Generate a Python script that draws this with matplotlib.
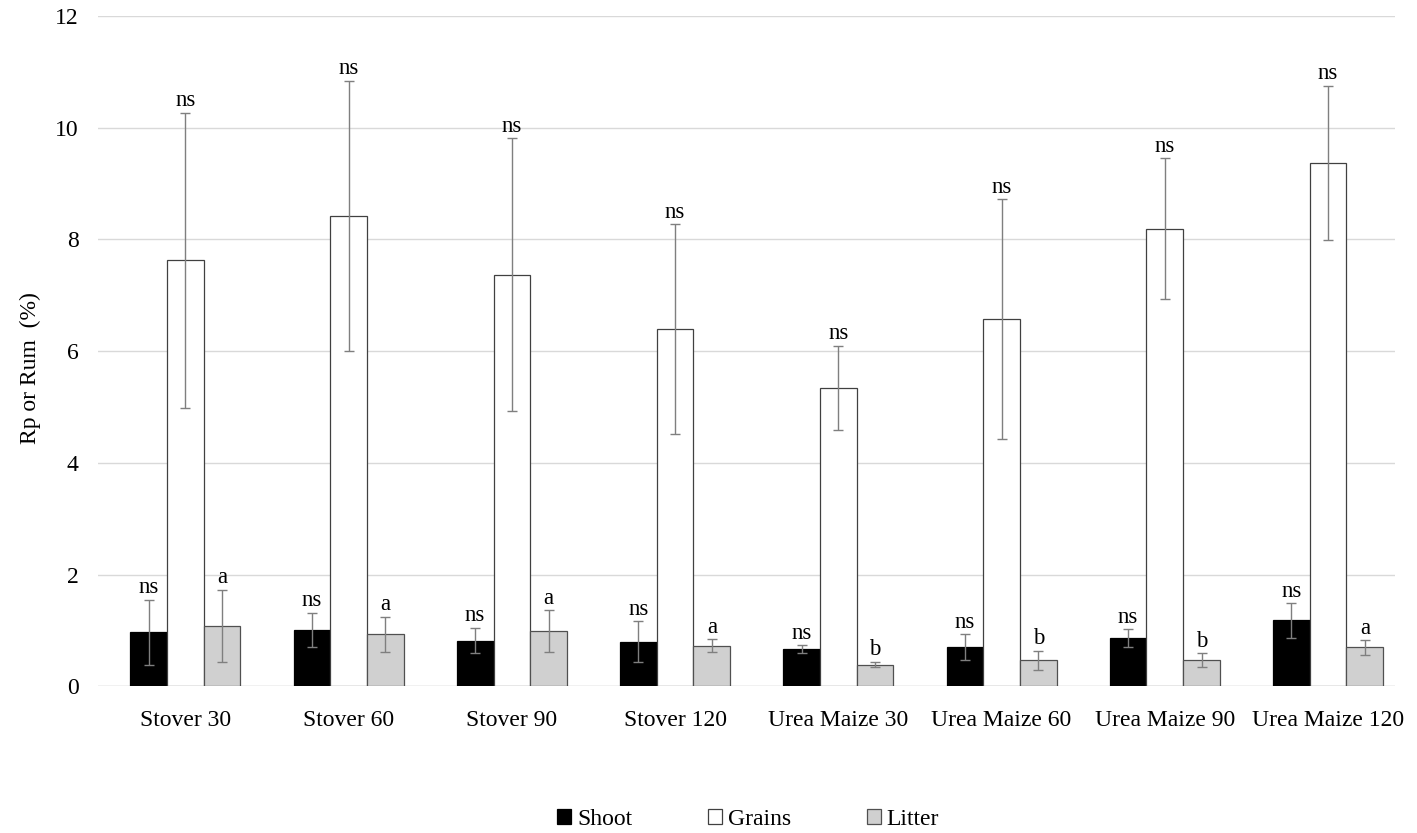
import matplotlib
matplotlib.use("Agg")
import matplotlib.pyplot as plt
import numpy as np

categories = ["Stover 30", "Stover 60", "Stover 90", "Stover 120",
              "Urea Maize 30", "Urea Maize 60", "Urea Maize 90", "Urea Maize 120"]
series = ["Shoot", "Grains", "Litter"]
shoot = [0.97, 1.01, 0.82, 0.80, 0.67, 0.70, 0.86, 1.18]
shoot_err = [0.58, 0.31, 0.23, 0.37, 0.07, 0.23, 0.16, 0.31]
grains = [7.63, 8.42, 7.37, 6.39, 5.34, 6.57, 8.19, 9.37]
grains_err = [2.64, 2.42, 2.44, 1.88, 0.76, 2.15, 1.26, 1.38]
litter = [1.08, 0.93, 0.99, 0.73, 0.39, 0.47, 0.47, 0.70]
litter_err = [0.65, 0.32, 0.37, 0.12, 0.05, 0.17, 0.12, 0.13]
shoot_lbl = ["ns"] * 8
grains_lbl = ["ns"] * 8
litter_lbl = ["a", "a", "a", "a", "b", "b", "b", "a"]

plt.rcParams['font.family'] = ['Liberation Serif', 'DejaVu Serif']

fig = plt.figure(figsize=(14.17, 8.33), dpi=100)
ax = fig.add_axes([0.0692, 0.176, 0.9153, 0.805])

x = np.arange(len(categories))
w = 0.225
vals = [shoot, grains, litter]
errs = [shoot_err, grains_err, litter_err]
lbls = [shoot_lbl, grains_lbl, litter_lbl]
faces = ["black", "white", "#d0d0d0"]
edges = ["black", "#404040", "#505050"]

for i in range(3):
    xs = x + (i - 1) * w
    ax.bar(xs, vals[i], w, color=faces[i], edgecolor=edges[i], linewidth=0.9,
           label=series[i], zorder=3,
           yerr=errs[i], error_kw=dict(ecolor="#7f7f7f", elinewidth=1.0,
                                       capsize=3.5, capthick=1.0, zorder=4))
    for xi, v, e, t in zip(xs, vals[i], errs[i], lbls[i]):
        ax.annotate(t, (xi, v + e), xytext=(0, 1), textcoords="offset points",
                    ha="center", va="bottom", fontsize=16.5, zorder=5)

ax.set_xlim(-0.535, 7.41)
ax.set_ylim(0, 12)
ax.set_yticks(np.arange(0, 13, 2))
ax.set_xticks(x)
ax.set_xticklabels(categories, fontsize=17)
ax.tick_params(axis='y', labelsize=17, length=0, pad=14)
ax.tick_params(axis='x', length=0, pad=17)
ax.yaxis.grid(True, color="#d9d9d9", linewidth=1.0, zorder=0)
ax.set_axisbelow(True)
for s in ax.spines.values():
    s.set_visible(False)
ax.axhline(0, color="#d9d9d9", linewidth=1.0, zorder=1)
ax.set_ylabel("Rp or Rum  (%)", fontsize=17)
ax.yaxis.set_label_coords(-0.044, 0.475)

leg = fig.legend(loc="lower center", bbox_to_anchor=(0.528, -0.022), ncol=3,
                 frameon=False, fontsize=17, handlelength=0.6, handleheight=0.6,
                 columnspacing=3.2, handletextpad=0.25)
fig.savefig("out.png", dpi=100)
